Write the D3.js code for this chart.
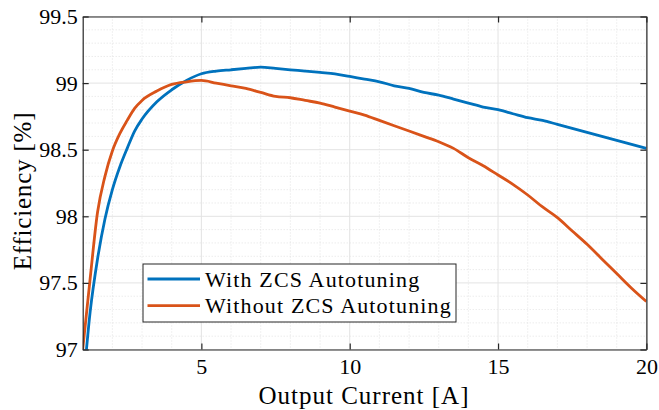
<!DOCTYPE html>
<html>
<head>
<meta charset="utf-8">
<script src="https://cdn.jsdelivr.net/npm/d3@7"></script>
<style>
  html, body { margin: 0; padding: 0; background: #fff; }
  svg { display: block; }
</style>
</head>
<body>
<svg id="chart" width="659" height="410"></svg>
<script>
// ---- data ----
const current = [1.0, 1.25, 1.5, 1.75, 2.0, 2.25, 2.5, 2.75, 3.0, 3.5, 4.0, 4.5, 5.0, 5.5, 6.0, 6.5, 7.0, 7.5, 8.0, 8.5, 9.0, 9.5, 10, 10.5, 11, 11.5, 12, 12.5, 13, 13.5, 14, 14.5, 15, 15.5, 16, 16.5, 17, 17.5, 18, 18.5, 19, 19.5, 20];
const withZCS = [96.68, 97.28, 97.68, 97.98, 98.20, 98.37, 98.51, 98.64, 98.73, 98.86, 98.95, 99.02, 99.07, 99.09, 99.10, 99.11, 99.12, 99.11, 99.10, 99.09, 99.08, 99.07, 99.05, 99.03, 99.01, 98.98, 98.96, 98.93, 98.91, 98.88, 98.85, 98.82, 98.80, 98.77, 98.74, 98.72, 98.69, 98.66, 98.63, 98.60, 98.57, 98.54, 98.51];
const withoutZCS = [97.0, 97.53, 98.03, 98.30, 98.49, 98.62, 98.72, 98.81, 98.87, 98.94, 98.99, 99.01, 99.02, 99.00, 98.98, 98.96, 98.93, 98.90, 98.89, 98.87, 98.85, 98.82, 98.79, 98.76, 98.72, 98.68, 98.64, 98.60, 98.56, 98.51, 98.44, 98.38, 98.31, 98.24, 98.16, 98.07, 97.99, 97.89, 97.79, 97.68, 97.57, 97.46, 97.36];
const seriesNames = ["With ZCS Autotuning", "Without ZCS Autotuning"];
const seriesColors = ["#0072BD", "#D95319"];
const xTicks = [5, 10, 15, 20];
const yTicks = [97, 97.5, 98, 98.5, 99, 99.5];
const yTickLabels = ["97", "97.5", "98", "98.5", "99", "99.5"];
const xLabel = "Output Current [A]";
const yLabel = "Efficiency [%]";

// ---- pick an installed serif font ----
function pickFont(cands) {
  const c = document.createElement("canvas").getContext("2d");
  const s = "Efficiency WZCSAutotuning 0123456789 [%]";
  for (const f of cands) {
    let found = false;
    for (const base of ["monospace", "sans-serif"]) {
      c.font = `40px ${base}`; const w0 = c.measureText(s).width;
      c.font = `40px '${f}', ${base}`; const w1 = c.measureText(s).width;
      if (Math.abs(w0 - w1) > 0.5) found = true;
    }
    if (found) return `'${f}', serif`;
  }
  return "serif";
}
const FONT = pickFont(["Liberation Serif", "Tinos", "Times New Roman", "Nimbus Roman", "DejaVu Serif", "Noto Serif", "FreeSerif"]);

// ---- layout ----
const svg = d3.select("#chart");
const L = 82.7, R = 646.4, T = 16.5, B = 349.5;
const x = d3.scaleLinear().domain([1, 20]).range([L, R]);
const y = d3.scaleLinear().domain([97, 99.5]).range([B, T]);
const axisColor = "#262626";

// minor grid
const xMinor = d3.range(2, 20, 1).filter(v => v % 5 !== 0);
const yMinor = d3.range(97.1, 99.45, 0.1).filter(v => Math.abs(v * 2 - Math.round(v * 2)) > 1e-6);
const g = svg.append("g");
g.selectAll(".xm").data(xMinor).join("line")
  .attr("x1", d => x(d)).attr("x2", d => x(d)).attr("y1", T).attr("y2", B)
  .attr("stroke", "#dcdcdc").attr("stroke-width", 0.8).attr("stroke-dasharray", "1,2");
g.selectAll(".ym").data(yMinor).join("line")
  .attr("x1", L).attr("x2", R).attr("y1", d => y(d)).attr("y2", d => y(d))
  .attr("stroke", "#dcdcdc").attr("stroke-width", 0.8).attr("stroke-dasharray", "1,2");
// major grid
g.selectAll(".xg").data(xTicks).join("line")
  .attr("x1", d => x(d)).attr("x2", d => x(d)).attr("y1", T).attr("y2", B)
  .attr("stroke", "#e3e3e3").attr("stroke-width", 1);
g.selectAll(".yg").data(yTicks).join("line")
  .attr("x1", L).attr("x2", R).attr("y1", d => y(d)).attr("y2", d => y(d))
  .attr("stroke", "#e3e3e3").attr("stroke-width", 1);

// data lines
svg.append("clipPath").attr("id", "clip").append("rect")
  .attr("x", L).attr("y", T).attr("width", R - L).attr("height", B - T);
const line = d3.line().x(d => x(d[0])).y(d => y(d[1])).curve(d3.curveMonotoneX);
[withZCS, withoutZCS].forEach((vals, i) => {
  svg.append("path")
    .datum(current.map((c, k) => [c, vals[k]]))
    .attr("clip-path", "url(#clip)")
    .attr("fill", "none").attr("stroke", seriesColors[i])
    .attr("stroke-width", 2.8).attr("stroke-linejoin", "round")
    .attr("d", line);
});

// axes (ticks inside, box)
const tickLen = 6;
const xAxisB = d3.axisBottom(x).tickValues(xTicks).tickSizeInner(-tickLen).tickSizeOuter(0).tickPadding(9).tickFormat(d3.format("d"));
const xAxisT = d3.axisTop(x).tickValues(xTicks).tickSizeInner(-tickLen).tickSizeOuter(0).tickFormat("");
const yAxisL = d3.axisLeft(y).tickValues(yTicks).tickSizeInner(-tickLen).tickSizeOuter(0).tickPadding(5).tickFormat((d, i) => yTickLabels[i]);
const yAxisR = d3.axisRight(y).tickValues(yTicks).tickSizeInner(-tickLen).tickSizeOuter(0).tickFormat("");
function style(sel) {
  sel.attr("font-family", FONT).attr("font-size", 22);
  sel.select(".domain").attr("stroke", axisColor).attr("stroke-width", 1.2);
  sel.selectAll(".tick line").attr("stroke", axisColor).attr("stroke-width", 1.2);
  sel.selectAll(".tick text").attr("font-family", FONT).attr("font-size", 22).attr("fill", "#000");
}
svg.append("g").attr("transform", `translate(0,${B})`).call(xAxisB).call(style);
svg.append("g").attr("transform", `translate(0,${T})`).call(xAxisT).call(style);
svg.append("g").attr("transform", `translate(${L},0)`).call(yAxisL).call(style);
svg.append("g").attr("transform", `translate(${R},0)`).call(yAxisR).call(style);

// axis labels
svg.append("text").attr("x", 364).attr("y", 404).attr("text-anchor", "middle")
  .attr("font-family", FONT).attr("font-size", 25).attr("letter-spacing", 1).text(xLabel);
svg.append("text").attr("transform", "translate(31,191) rotate(-90)").attr("text-anchor", "middle")
  .attr("font-family", FONT).attr("font-size", 25).attr("letter-spacing", 0.8).text(yLabel);

// legend
const lg = svg.append("g");
lg.append("rect").attr("x", 143).attr("y", 264).attr("width", 313).attr("height", 58)
  .attr("fill", "#fff").attr("stroke", axisColor).attr("stroke-width", 1);
seriesNames.forEach((name, i) => {
  const yy = 279 + i * 26.7;
  lg.append("line").attr("x1", 147.5).attr("x2", 200).attr("y1", yy).attr("y2", yy)
    .attr("stroke", seriesColors[i]).attr("stroke-width", 2.8);
  lg.append("text").attr("x", 205).attr("y", yy + 7.5).attr("font-family", FONT).attr("font-size", 22)
    .attr("letter-spacing", 1.15).text(name);
});
</script>
</body>
</html>
